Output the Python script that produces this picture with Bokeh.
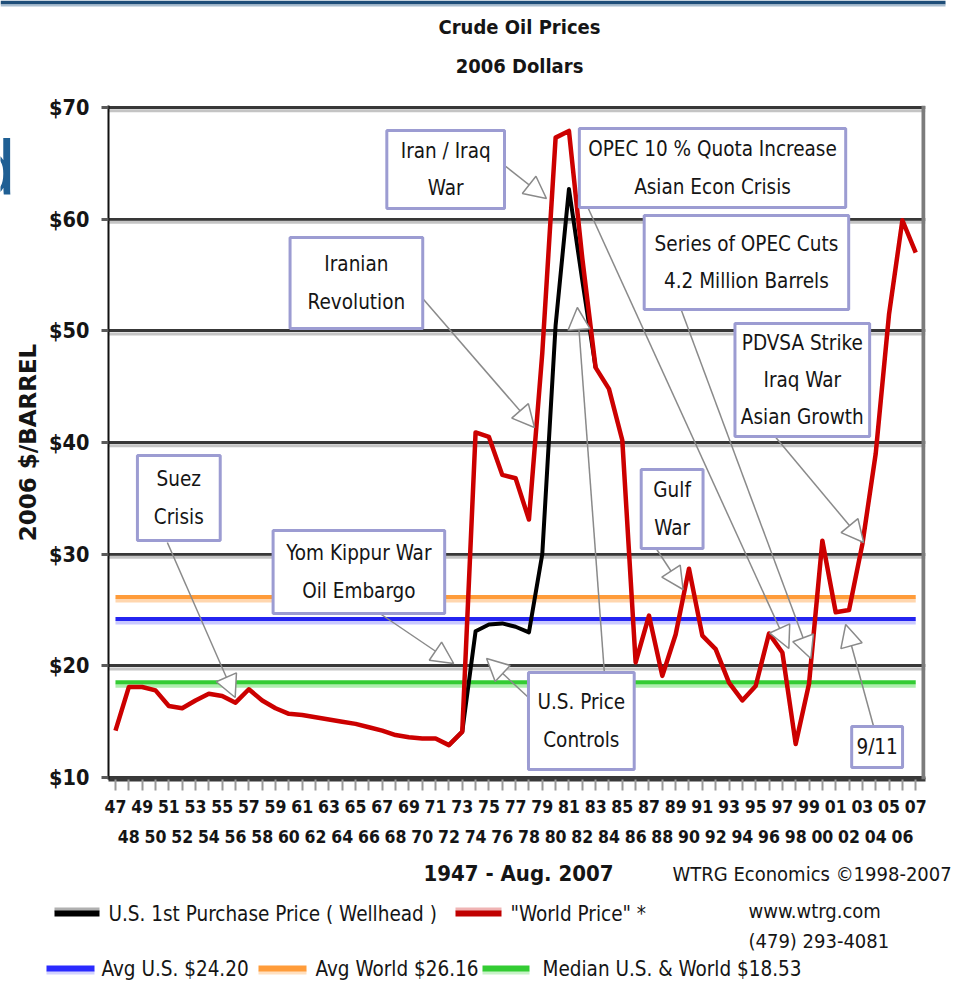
from bokeh.plotting import figure
from bokeh.layouts import column, row
from bokeh.models import (Range1d, FixedTicker, LinearAxis, NumeralTickFormatter,
                          Label, BoxAnnotation, Arrow, NormalHead, Span)
from bokeh.embed import file_html
from bokeh.resources import INLINE

# ---------------------------------------------------------------- data
years = list(range(1947, 2008))
world_price = [14.2, 18.1, 18.1, 17.8, 16.4, 16.2, 16.9, 17.5, 17.3, 16.7,
               17.9, 16.9, 16.2, 15.7, 15.6, 15.4, 15.2, 15.0, 14.8, 14.5,
               14.2, 13.8, 13.6, 13.5, 13.5, 12.9, 14.1, 40.9, 40.5, 37.1,
               36.8, 33.1, 48.0, 67.3, 67.9, 56.5, 46.7, 44.8, 40.2, 20.3,
               24.5, 19.1, 22.8, 28.7, 22.7, 21.5, 18.5, 16.9, 18.2, 22.9,
               21.2, 13.0, 18.4, 31.2, 24.8, 25.0, 30.9, 39.0, 51.5, 59.9, 57.0]

us_years = list(range(1972, 1984))
us_price = [12.9, 14.1, 23.1, 23.7, 23.8, 23.5, 23.0, 30.0, 50.5, 62.7, 54.5, 46.7]

avg_us = 24.20
avg_world = 26.16
median_all = 18.53

price_ticks = [10, 20, 30, 40, 50, 60, 70]
odd_years = years[0::2]
even_years = years[1::2]
odd_labels = [f"{y % 100:02d}" for y in odd_years]
even_labels = [f"{y % 100:02d}" for y in even_years]

# ---------------------------------------------------------------- page geometry
W, H = 959, 981
TOP_H = 85            # title band
MAIN_BOTTOM = 858     # main chart ends here, footer below
STRIP_W = 12          # slim strip at the left edge of the slide
FRAME_L, FRAME_R, FRAME_T, FRAME_B = 106, 925, 105, 779
PX_1947, PX_PER_YEAR = 113.0, 13.37
PY_10, PX_PER_DOLLAR = 777.0, 11.167

X0 = 1947 - (PX_1947 - FRAME_L) / PX_PER_YEAR
X1 = 1947 + (FRAME_R - PX_1947) / PX_PER_YEAR
Y0 = 10 - (FRAME_B - PY_10) / PX_PER_DOLLAR
Y1 = 10 + (PY_10 - FRAME_T) / PX_PER_DOLLAR


def dx(px):
    """page pixel column -> year coordinate"""
    return 1947 + (px - PX_1947) / PX_PER_YEAR


def dy(py):
    """page pixel row -> price coordinate"""
    return 10 + (PY_10 - py) / PX_PER_DOLLAR


NARROW = "DejaVu Sans Condensed"
WIDE = "DejaVu Sans"
SANS = "Liberation Sans"
INK = "#151515"
ARROW_GRAY = "#8a8a8a"


def blank_panel(width, height, x_left, x_right, y_top, y_bottom):
    """figure without axes whose data units are page pixels"""
    f = figure(width=width, height=height, title=None,
               x_range=Range1d(x_left, x_right), y_range=Range1d(y_bottom, y_top),
               output_backend="svg", toolbar_location=None, min_border=0,
               x_axis_location=None, y_axis_location=None,
               background_fill_color="white", border_fill_color="white")
    f.outline_line_color = None
    f.grid.visible = False
    return f


def put_text(fig, x, y, text, size, align="left", style="normal", font=NARROW,
             color=INK, baseline="middle"):
    fig.add_layout(Label(x=x, y=y, text=text, text_align=align,
                         text_baseline=baseline, text_font=font,
                         text_font_size=size, text_font_style=style,
                         text_color=color))


# ---------------------------------------------------------------- title band
top = blank_panel(W, TOP_H, 0, W, 0, TOP_H)
top.quad(left=0, right=945, top=0, bottom=4, fill_color="#1f4e79", line_color=None)
top.quad(left=0, right=945, top=4, bottom=6, fill_color="#a9bdd0", line_color=None)
put_text(top, 519, 26, "Crude Oil Prices", "20px", align="center", style="bold")
put_text(top, 519, 65, "2006 Dollars", "20px", align="center", style="bold")

# ---------------------------------------------------------------- left strip
strip = blank_panel(STRIP_W, MAIN_BOTTOM - TOP_H, 0, STRIP_W, TOP_H, MAIN_BOTTOM)
put_text(strip, 15, 157, "d", "78px", align="right", font=SANS, color="#1f5f94",
         baseline="middle")

# ---------------------------------------------------------------- main chart
p = figure(width=W - STRIP_W, height=MAIN_BOTTOM - TOP_H, title=None,
           x_range=Range1d(X0, X1), y_range=Range1d(Y0, Y1),
           output_backend="svg", toolbar_location=None,
           min_border_left=FRAME_L - STRIP_W, min_border_right=W - FRAME_R,
           min_border_top=FRAME_T - TOP_H, min_border_bottom=MAIN_BOTTOM - FRAME_B,
           background_fill_color="white", border_fill_color="white")
p.outline_line_color = None

yax = p.yaxis[0]
yax.ticker = FixedTicker(ticks=price_ticks)
yax.formatter = NumeralTickFormatter(format="$0")
yax.major_label_text_font = NARROW
yax.major_label_text_font_style = "bold"
yax.major_label_text_font_size = "21.5px"
yax.major_label_text_color = INK
yax.major_label_standoff = 12
yax.major_tick_out = 7
yax.major_tick_in = 0
yax.major_tick_line_width = 3
yax.major_tick_line_color = "#5a5a5a"
yax.minor_tick_line_color = None
yax.axis_line_color = "#111111"
yax.axis_line_width = 2
yax.axis_label = "2006 $/BARREL"
yax.axis_label_text_font = WIDE
yax.axis_label_text_font_style = "bold"
yax.axis_label_text_font_size = "23px"
yax.axis_label_text_color = INK
yax.axis_label_standoff = 5

xax = p.xaxis[0]
xax.ticker = FixedTicker(ticks=years)
xax.major_label_overrides = {**{y: "" for y in even_years},
                             **dict(zip(odd_years, odd_labels))}
xax.major_label_text_font = NARROW
xax.major_label_text_font_style = "bold"
xax.major_label_text_font_size = "17.5px"
xax.major_label_text_color = INK
xax.major_label_standoff = 9
xax.major_tick_out = 11
xax.major_tick_in = 0
xax.major_tick_line_width = 2
xax.major_tick_line_color = "#9a9a9a"
xax.minor_tick_line_color = None
xax.axis_line_color = "#3a3a3a"
xax.axis_line_width = 4

xax2 = LinearAxis(ticker=FixedTicker(ticks=even_years),
                  major_label_overrides=dict(zip(even_years, even_labels)),
                  major_label_text_font=NARROW, major_label_text_font_style="bold",
                  major_label_text_font_size="17.5px", major_label_text_color=INK,
                  major_label_standoff=14, major_tick_out=0, major_tick_in=0,
                  major_tick_line_color=None, minor_tick_line_color=None,
                  axis_line_color=None)
p.add_layout(xax2, "below")

# horizontal rules with a pale lower edge, plus the grey right-hand border
p.xgrid.visible = False
p.ygrid.ticker = FixedTicker(ticks=price_ticks)
p.ygrid.grid_line_color = "#383838"
p.ygrid.grid_line_width = 3
for v in price_ticks:
    p.add_layout(Span(location=v - 3.2 / PX_PER_DOLLAR, dimension="width",
                      line_color="#c4c4c4", line_width=3, level="underlay"))
p.add_layout(Span(location=dx(923), dimension="height", line_color="#7c7c7c",
                  line_width=4))

# average and median levels
ref_lines = [(avg_world, "#ff9c3a", "#ffd6ae"),
             (avg_us, "#2424f0", "#c9c9ff"),
             (median_all, "#33cc33", "#aeeeae")]
shade = 3.5 / PX_PER_DOLLAR
for level, col, light in ref_lines:
    p.line([years[0], years[-1]], [level - shade, level - shade],
           line_color=light, line_width=4)
    p.line([years[0], years[-1]], [level, level], line_color=col, line_width=4)

# price series
p.line(us_years, us_price, line_color="black", line_width=4, line_join="round")
p.line(years, world_price, line_color="#cc0000", line_width=4.5, line_join="round")

# event callouts: text box (page pixels) and pointer arrows
callouts = [
    ("Iran / Iraq\nWar", (385, 130, 503, 208)),
    ("OPEC 10 % Quota Increase\nAsian Econ Crisis", (578, 128, 845, 207)),
    ("Series of OPEC Cuts\n4.2 Million Barrels", (643, 215, 848, 309)),
    ("Iranian\nRevolution", (288, 237, 421, 328)),
    ("PDVSA Strike\nIraq War\nAsian Growth", (734, 323, 869, 436)),
    ("Suez\nCrisis", (135, 455, 218, 540)),
    ("Gulf\nWar", (640, 469, 702, 548)),
    ("Yom Kippur War\nOil Embargo", (271, 530, 443, 613)),
    ("U.S. Price\nControls", (527, 672, 633, 769)),
    ("9/11", (851, 726, 902, 767)),
]
pointers = [
    ((503, 165), (545, 198)),
    ((421, 298), (533, 427)),
    ((165, 542), (233, 697)),
    ((378, 613), (452, 663)),
    ((527, 697), (485, 658)),
    ((603, 671), (576, 307)),
    ((587, 208), (788, 648)),
    ((680, 309), (810, 658)),
    ((775, 437), (863, 542)),
    ((655, 548), (682, 589)),
    ((873, 726), (845, 624)),
]

for (x0, y0), (x1, y1) in pointers:
    p.add_layout(Arrow(end=NormalHead(size=22, fill_color="white",
                                      line_color=ARROW_GRAY, line_width=1.5),
                       x_start=dx(x0), y_start=dy(y0), x_end=dx(x1), y_end=dy(y1),
                       line_color=ARROW_GRAY, line_width=1.5))

for text, (l, t, r, b) in callouts:
    p.add_layout(BoxAnnotation(left=dx(l), right=dx(r), top=dy(t), bottom=dy(b),
                               fill_color="white", fill_alpha=1.0,
                               line_color="#9c9cd2", line_width=3, line_alpha=1.0))
    p.add_layout(Label(x=dx((l + r) / 2), y=dy((t + b) / 2), text=text,
                       text_align="center", text_baseline="middle",
                       text_font=NARROW, text_font_size="20.5px",
                       text_line_height=1.55, text_color=INK))

# ---------------------------------------------------------------- footer
foot = blank_panel(W, H - MAIN_BOTTOM, 0, W, MAIN_BOTTOM, H)
put_text(foot, 518, 873, "1947 - Aug. 2007", "22px", align="center", style="bold")
put_text(foot, 672, 873, "WTRG Economics \u00a91998-2007", "20px")
put_text(foot, 748, 910, "www.wtrg.com", "20px")
put_text(foot, 748, 940, "(479) 293-4081", "20px")

# legend: swatch band with its pale edge, then the entry text
legend_rows = [
    (54, 99, 913, "black", "#b0b0b0", -4, "U.S. 1st Purchase Price ( Wellhead )", 108),
    (455, 501, 913, "#c00000", "#f0b4b4", -4, "\"World Price\" *", 510),
    (46, 94, 968, "#2a2aff", "#d2d2ff", 4, "Avg U.S. $24.20", 101),
    (258, 306, 968, "#ff9c3a", "#ffe0c0", 4, "Avg World $26.16", 315),
    (482, 529, 968, "#33cc33", "#c8f2c8", 4, "Median U.S. & World $18.53", 542),
]
for l, r, cy, col, light, off, text, tx in legend_rows:
    foot.quad(left=l, right=r, top=cy + off - 2, bottom=cy + off + 2,
              fill_color=light, line_color=None)
    foot.quad(left=l, right=r, top=cy - 3, bottom=cy + 3, fill_color=col,
              line_color=None)
    put_text(foot, tx, cy, text, "20.5px")

layout = column(top, row(strip, p), foot)
open("out.html", "w").write(file_html(layout, INLINE))
